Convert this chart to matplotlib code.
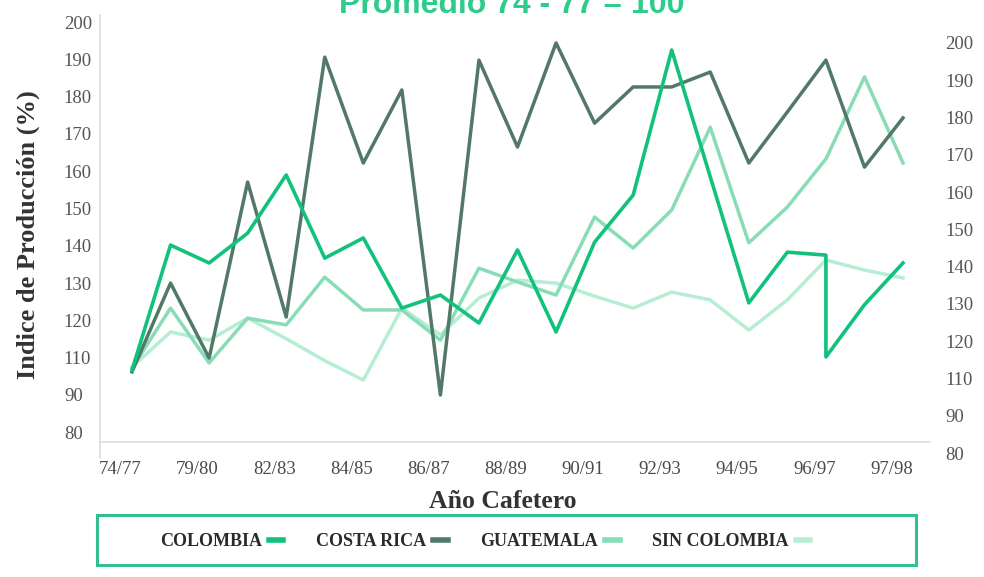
import matplotlib.pyplot as plt
from matplotlib.patches import Rectangle

# Indice de produccion (%), promedio 74-77 = 100
periodos = ['74/77', '79/80', '82/83', '84/85', '86/87', '88/89',
            '90/91', '92/93', '94/95', '96/97', '97/98']
puntos = list(range(21))
# Colombia tiene una caida vertical en el punto 18
colombia_x = list(range(19)) + [18, 19, 20]

colombia = [106.7, 140.2, 135.4, 143.4, 159.0, 136.7, 142.1, 123.3, 126.8, 119.3, 138.9,
            116.9, 141.0, 153.6, 192.5, 158.5, 124.7, 138.3, 137.5, 110.2, 124.2, 135.4]
costa_rica = [106.2, 130.0, 109.9, 157.1, 120.9, 190.6, 162.2, 181.8, 100.0, 189.8, 166.5,
              194.4, 172.9, 182.6, 182.6, 186.6, 162.2, 175.9, 189.8, 161.1, 174.3]
guatemala = [107.2, 123.3, 108.6, 120.6, 118.8, 131.6, 122.8, 122.8, 114.7, 134.0, 130.3,
             126.8, 147.7, 139.4, 149.6, 171.8, 140.8, 150.4, 163.3, 185.3, 162.2]
sin_colombia = [107.5, 116.9, 114.7, 120.6, 115.1, 109.2, 104.0, 123.3, 116.1, 126.0, 130.8,
                130.0, 126.5, 123.3, 127.6, 125.5, 117.4, 125.5, 136.2, 133.5, 131.4]

# ticks del eje (las etiquetas saltan el 100, como en el original)
y_ticks = [200, 190, 180, 170, 160, 150, 140, 130, 120, 110, 100, 90]
y_labels = ['200', '190', '180', '170', '160', '150', '140', '130', '120', '110', '90', '80']

c_col = '#12c27c'
c_cr = '#527868'
c_gua = '#88dcb6'
c_sin = '#b6eed4'
serif = 'Liberation Serif'

fig = plt.figure(figsize=(9.84, 5.77), dpi=100)
ax = fig.add_axes([100 / 984, 1 - 458 / 577, 830 / 984, 443 / 577])

ax.plot(puntos, sin_colombia, color=c_sin, lw=2.5, label='SIN COLOMBIA', zorder=2)
ax.plot(puntos, guatemala, color=c_gua, lw=2.5, label='GUATEMALA', zorder=3)
ax.plot(puntos, costa_rica, color=c_cr, lw=2.5, label='COSTA RICA', zorder=4)
ax.plot(colombia_x, colombia, color=c_col, lw=2.6, label='COLOMBIA', zorder=5)

ax.set_xlim(-0.83, 20.7)
ax.set_ylim(83.1, 201.9)

for s in ['top', 'right']:
    ax.spines[s].set_visible(False)
for s in ['left', 'bottom']:
    ax.spines[s].set_color('#dddddd')
    ax.spines[s].set_linewidth(1.2)
ax.spines['bottom'].set_position(('data', 87.4))

ax.set_xticks([p - 0.3 for p in puntos[::2]])
ax.set_xticklabels(periodos)
ax.set_yticks(y_ticks)
ax.set_yticklabels(y_labels)
ax.tick_params(axis='x', length=0, pad=14, labelsize=13.5, labelcolor='#4a4a4a')
ax.tick_params(axis='y', length=0, pad=26, labelsize=13.5, labelcolor='#555555')
for t in ax.get_xticklabels() + ax.get_yticklabels():
    t.set_fontfamily(serif)
for t in ax.get_yticklabels():
    t.set_horizontalalignment('left')

ax2 = ax.twinx()
ax2.set_ylim(83.1 + 5.6, 201.9 + 5.6)
ax2.set_yticks(y_ticks)
ax2.set_yticklabels(y_labels)
ax2.tick_params(axis='y', length=0, pad=11, labelsize=13.5, labelcolor='#555555')
for t in ax2.get_yticklabels():
    t.set_fontfamily(serif)
for s in ax2.spines.values():
    s.set_visible(False)

# titulo cortado en el borde superior, como en el original escaneado
fig.text(512 / 984, 1 - 13 / 577, 'Promedio 74 - 77 = 100', ha='center', va='baseline',
         fontsize=23, fontweight='bold', color='#2dcc8b', family='Liberation Sans')
fig.text(28 / 984, 1 - 235 / 577, 'Indice de Producción (%)', rotation=90,
         ha='center', va='center', fontsize=19, fontweight='bold', color='#333333',
         family=serif)
fig.text(503 / 984, 1 - 502 / 577, 'Año Cafetero', ha='center', va='center',
         fontsize=18.5, fontweight='bold', color='#333333', family=serif)

# recuadro de la leyenda
fig.patches.append(Rectangle((97 / 984, 1 - 565 / 577), 819 / 984, 50 / 577,
                             transform=fig.transFigure, fill=False,
                             edgecolor='#33c08c', linewidth=2.2))
handles, labels = ax.get_legend_handles_labels()
order = [3, 2, 1, 0]
leg = fig.legend([handles[i] for i in order], [labels[i] for i in order],
                 loc='center', bbox_to_anchor=(485 / 984, 1 - 542 / 577), ncol=4,
                 frameon=False, markerfirst=False, handlelength=0.8,
                 handletextpad=0.4, columnspacing=1.8,
                 prop={'family': serif, 'weight': 'bold', 'size': 13})
for t in leg.get_texts():
    t.set_color('#2a2a2a')
for h in leg.get_lines():
    h.set_linewidth(4)

fig.savefig('out.png', dpi=100)
